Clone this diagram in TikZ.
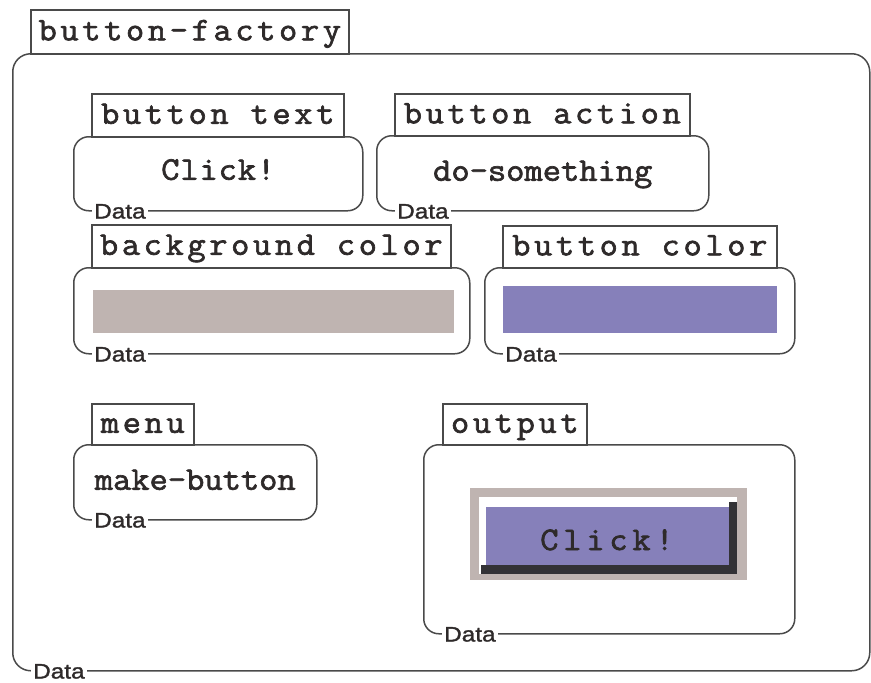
\documentclass[tikz,border=0pt]{standalone}
\usepackage{fontspec}
\usetikzlibrary{calc}
\newfontfamily\monof{Latin Modern Mono}[FakeBold=2,FakeStretch=1.075]
\newfontfamily\monotab{Latin Modern Mono}[FakeBold=2,FakeStretch=1.075,LetterSpace=10.9]
\newfontfamily\monoclick{Latin Modern Mono}[FakeBold=2,FakeStretch=1.075,LetterSpace=2.7]
\newfontfamily\monoout{Latin Modern Mono}[FakeBold=2,FakeStretch=1.075,LetterSpace=14.5]
\newfontfamily\sansf{Liberation Sans}[FakeStretch=1.16,FakeBold=1.5]
\definecolor{linec}{HTML}{4A4A4A}
\definecolor{txt}{HTML}{2E2A2A}
\definecolor{bgc}{HTML}{BFB4B1}
\definecolor{btc}{HTML}{8680BA}
\definecolor{shad}{HTML}{333236}
\begin{document}
\begin{tikzpicture}[x=1pt,y=-1pt,
  frame/.style={draw=linec, line width=1.5pt, rounded corners=15pt, inner sep=0pt, anchor=north west},
  tab/.style={draw=linec, line width=1.6pt, fill=white, inner sep=0pt, anchor=north west,
    text height=20pt, text depth=3pt, font=\fontsize{33}{33}\selectfont\monotab, text=txt},
  content/.style={inner sep=0pt, text height=20pt, text depth=3pt, font=\fontsize{33}{33}\selectfont\monof, text=txt},
  clicktxt/.style={inner sep=0pt, text height=20pt, text depth=3pt, font=\fontsize{33}{33}\selectfont\monoclick, text=txt},
  datal/.style={fill=white, inner xsep=2pt, inner ysep=0pt, text depth=0pt, anchor=base west, font=\fontsize{21}{21}\selectfont\sansf, text=txt},
  bar/.style={inner sep=0pt, anchor=north west, draw=none}
]
\useasboundingbox (0,0) rectangle (871,683);
% outer
\node[frame, rounded corners=18pt, minimum width=857, minimum height=617] (outer) at (12,53) {};
\node[tab, minimum width=318, minimum height=44] (outertab) at (30,9) {button-factory};
% button text
\node[frame, minimum width=289, minimum height=74] (btext) at (73,136) {};
\node[tab, minimum width=252, minimum height=43] (btexttab) at (91,93) {button text};
\node[clicktxt] (btextval) at ($(btext.center)+(0,-2.5)$) {Click!};
% button action
\node[frame, minimum width=332, minimum height=75] (bact) at (376,135) {};
\node[tab, minimum width=295, minimum height=42] (bacttab) at (394,93) {button action};
\node[content] (bactval) at ($(bact.center)+(0,-1)$) {do-something};
% background color
\node[frame, minimum width=396, minimum height=86] (bgcol) at (73,267) {};
\node[tab, minimum width=359, minimum height=43] (bgcoltab) at (91,224) {background color};
\node[bar, fill=bgc, minimum width=361, minimum height=43] (bgbar) at (93,290) {};
% button color
\node[frame, minimum width=310, minimum height=86] (bcol) at (484,267) {};
\node[tab, minimum width=274, minimum height=42] (bcoltab) at (502,225) {button color};
\node[bar, fill=btc, minimum width=274, minimum height=47] (bcbar) at (503,286) {};
% menu
\node[frame, minimum width=243, minimum height=75] (menu) at (73,444) {};
\node[tab, minimum width=102, minimum height=41] (menutab) at (91,403) {menu};
\node[content] (menuval) at ($(menu.center)+(0,-1)$) {make-button};
% output
\node[frame, minimum width=371, minimum height=189] (out) at (423,444) {};
\node[tab, minimum width=144, minimum height=41] (outtab) at (442,403) {output};
\node[bar, fill=bgc, minimum width=277, minimum height=92] (obg) at (470,488) {};
\node[bar, fill=white, minimum width=258, minimum height=77] (owhite) at (479,497) {};
\node[bar, fill=shad, minimum width=256, minimum height=72] (oshadow) at (481,502) {};
\node[bar, fill=white, minimum width=248, minimum height=63] (owhite2) at (481,502) {};
\node[bar, fill=btc, minimum width=243, minimum height=58] (obtn) at (486,507) {};
\node[clicktxt, font=\fontsize{33}{33}\selectfont\monoout] (outval) at (607,541.5) {Click!};
% Data labels
\node[datal] (d1) at ($(outer.south west)+(19,7)$) {Data};
\node[datal] (d2) at ($(btext.south west)+(19,7)$) {Data};
\node[datal] (d3) at ($(bact.south west)+(19,7)$) {Data};
\node[datal] (d4) at ($(bgcol.south west)+(19,7)$) {Data};
\node[datal] (d5) at ($(bcol.south west)+(19,7)$) {Data};
\node[datal] (d6) at ($(menu.south west)+(19,7)$) {Data};
\node[datal] (d7) at ($(out.south west)+(19,7)$) {Data};
\end{tikzpicture}
\end{document}
